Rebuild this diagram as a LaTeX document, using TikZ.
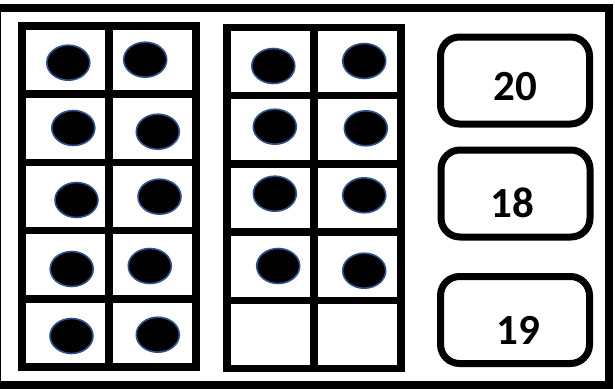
\documentclass[tikz,border=0pt]{standalone}
\usepackage{fontspec}
\setmainfont{Carlito}
\usepackage{tikz}
\usetikzlibrary{positioning,shapes.geometric}
\definecolor{dotblue}{RGB}{47,82,143}
\tikzset{
  cell/.style={rectangle,draw,line width=7.5pt,minimum width=87pt,minimum height=68.2pt,inner sep=0pt},
  counter/.style={ellipse,draw=dotblue,fill=black,line width=1.6pt,minimum width=43pt,minimum height=35pt,inner sep=0pt},
  numbox/.style={rectangle,draw,rounded corners=19pt,line width=7pt,minimum width=149pt,minimum height=87pt,inner sep=0pt},
  numtxt/.style={font=\fontsize{43}{50}\selectfont\bfseries,inner sep=0pt},
  frame/.style={draw,line width=8pt}
}
\begin{document}
\begin{tikzpicture}[x=1pt,y=-1pt]
\useasboundingbox (0,0) rectangle (615,388);
\draw[frame] (-3,8) rectangle (608.5,385);
% the two ten frames
\foreach \r in {1,...,5}{
  \foreach \c in {1,2}{
    \node[cell] (a\r\c) at ({22+87*(\c-0.5)},{26+68.2*(\r-0.5)}) {};
    \node[cell] (b\r\c) at ({227+87*(\c-0.5)},{27.5+68.2*(\r-0.5)}) {};
  }
}
% counters
\foreach \x/\y [count=\i] in {68.3/62.7,145.2/59.7,73.3/128,157.8/131.7,76.5/200,159.5/196.7,71.7/269,149.8/266,71.5/336,157.8/334.7}
  \node[counter] (p\i) at (\x,\y) {};
\foreach \x/\y [count=\i] in {273.3/66,364.2/61,274.8/126.7,365.8/128.3,274.8/193.7,364.2/195.3,278.2/266,364.2/270.7}
  \node[counter] (q\i) at (\x,\y) {};
% answer choices
\node[numbox] (n20) at (515,80.5) {};
\node[numbox] (n18) at (515.5,193.5) {};
\node[numbox] (n19) at (515,320) {};
\node[numtxt] (t20) at (515,87) {20};
\node[numtxt] (t18) at (512,203) {18};
\node[numtxt] (t19) at (518,330) {19};
\end{tikzpicture}
\end{document}
